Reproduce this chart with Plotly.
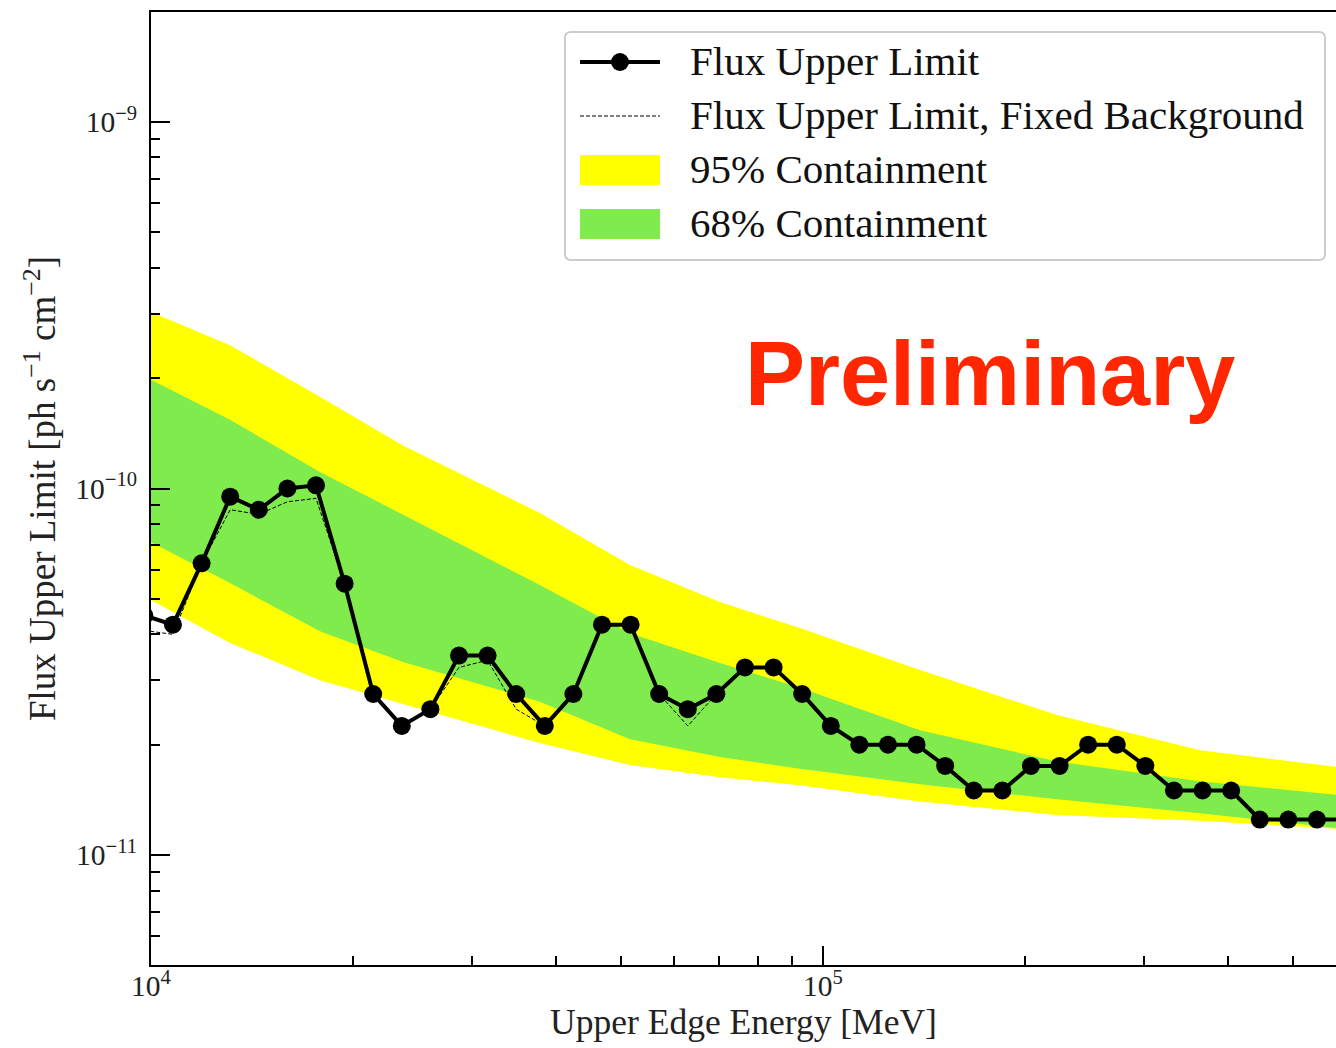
import math
import plotly.graph_objects as go

# ---------------- data ----------------
energy = [9775, 10782, 11893, 13118, 14468, 15958, 17601, 19414, 21412, 23617,
          26047, 28730, 31689, 34950, 38548, 42515, 46893, 51723, 57045, 62920,
          69395, 76545, 84431, 93111, 102706, 113271, 124939, 137813, 151986, 167647,
          184887, 203936, 224951, 248086, 273650, 301792, 332889, 367189, 404950, 446684,
          492611, 543350, 599300]

flux_ul = [4.5e-11, 4.25e-11, 6.25e-11, 9.5e-11, 8.75e-11, 1.0e-10, 1.02e-10, 5.5e-11, 2.75e-11, 2.25e-11,
           2.5e-11, 3.5e-11, 3.5e-11, 2.75e-11, 2.25e-11, 2.75e-11, 4.25e-11, 4.25e-11, 2.75e-11, 2.5e-11,
           2.75e-11, 3.25e-11, 3.25e-11, 2.75e-11, 2.25e-11, 2.0e-11, 2.0e-11, 2.0e-11, 1.75e-11, 1.5e-11,
           1.5e-11, 1.75e-11, 1.75e-11, 2.0e-11, 2.0e-11, 1.75e-11, 1.5e-11, 1.5e-11, 1.5e-11, 1.25e-11,
           1.25e-11, 1.25e-11, 1.25e-11]

flux_ul_fixed_bkg = [4.1e-11, 4.0e-11, 6.25e-11, 8.75e-11, 8.5e-11, 9.2e-11, 9.4e-11, 5.5e-11, 2.75e-11, 2.25e-11,
                     2.5e-11, 3.25e-11, 3.4e-11, 2.5e-11, 2.25e-11, 2.75e-11, 4.25e-11, 4.25e-11, 2.75e-11, 2.25e-11,
                     2.75e-11, 3.25e-11, 3.25e-11, 2.75e-11, 2.25e-11, 2.0e-11, 2.0e-11, 2.0e-11, 1.75e-11, 1.5e-11,
                     1.5e-11, 1.75e-11, 1.75e-11, 2.0e-11, 2.0e-11, 1.75e-11, 1.5e-11, 1.5e-11, 1.5e-11, 1.25e-11,
                     1.25e-11, 1.25e-11, 1.25e-11]

band_energy = [10000, 13110, 17840, 23710, 37910, 51610, 70260, 92420, 139400, 222900, 363900, 580000]
c95_upper = [3.03e-10, 2.46e-10, 1.78e-10, 1.31e-10, 8.57e-11, 6.18e-11, 4.90e-11, 4.16e-11, 3.20e-11, 2.41e-11, 1.93e-11, 1.74e-11]
c68_upper = [1.98e-10, 1.54e-10, 1.11e-10, 8.47e-11, 5.45e-11, 4.03e-11, 3.34e-11, 2.86e-11, 2.19e-11, 1.80e-11, 1.59e-11, 1.46e-11]
c68_lower = [7.14e-11, 5.52e-11, 4.08e-11, 3.36e-11, 2.62e-11, 2.07e-11, 1.85e-11, 1.72e-11, 1.56e-11, 1.42e-11, 1.30e-11, 1.185e-11]
c95_lower = [4.96e-11, 3.79e-11, 3.00e-11, 2.58e-11, 2.02e-11, 1.76e-11, 1.63e-11, 1.55e-11, 1.40e-11, 1.285e-11, 1.24e-11, 1.18e-11]

x_ticks = [1e4, 1e5]
x_ticktext = ["10<sup>4</sup>", "10<sup>5</sup>"]
y_ticks = [1e-11, 1e-10, 1e-9]
y_ticktext = ["10<sup>\u221211</sup>", "10<sup>\u221210</sup>", "10<sup>\u22129</sup>"]

legend_labels = ["Flux Upper Limit", "Flux Upper Limit, Fixed Background",
                 "95% Containment", "68% Containment"]

YELLOW = "#ffff00"
GREEN = "#7feb4c"
SERIF = "Liberation Serif"

W, H = 1336, 1048
ML, MR, MT, MB = 151, 0, 12, 83
PW, PH = W - ML - MR, H - MT - MB


def px_x(p):
    return (p - ML) / PW


def px_y(p):
    return (H - MB - p) / PH


fig = go.Figure()

# 95% band
fig.add_trace(go.Scatter(x=band_energy, y=c95_lower, mode="lines", line=dict(width=0),
                         showlegend=False, hoverinfo="skip"))
fig.add_trace(go.Scatter(x=band_energy, y=c95_upper, mode="lines", line=dict(width=0),
                         fill="tonexty", fillcolor=YELLOW, name=legend_labels[2], showlegend=False))
# 68% band
fig.add_trace(go.Scatter(x=band_energy, y=c68_lower, mode="lines", line=dict(width=0),
                         showlegend=False, hoverinfo="skip"))
fig.add_trace(go.Scatter(x=band_energy, y=c68_upper, mode="lines", line=dict(width=0),
                         fill="tonexty", fillcolor=GREEN, name=legend_labels[3], showlegend=False))
# fixed background
fig.add_trace(go.Scatter(x=energy, y=flux_ul_fixed_bkg, mode="lines",
                         line=dict(color="black", width=1, dash="4px,2px"),
                         name=legend_labels[1], showlegend=False))
# main
fig.add_trace(go.Scatter(x=energy, y=flux_ul, mode="lines+markers",
                         line=dict(color="black", width=4),
                         marker=dict(color="black", size=18),
                         name=legend_labels[0], showlegend=False))

# ---------------- legend (drawn manually) ----------------
bx0, bx1, by0, by1, rad = 565, 1325, 32, 260, 6
rx, ry = rad / PW, rad / PH
X0, X1, Y0, Y1 = px_x(bx0), px_x(bx1), px_y(by1), px_y(by0)
box_path = (f"M{X0+rx},{Y0} L{X1-rx},{Y0} Q{X1},{Y0} {X1},{Y0+ry} L{X1},{Y1-ry} "
            f"Q{X1},{Y1} {X1-rx},{Y1} L{X0+rx},{Y1} Q{X0},{Y1} {X0},{Y1-ry} "
            f"L{X0},{Y0+ry} Q{X0},{Y0} {X0+rx},{Y0} Z")
fig.add_shape(type="path", path=box_path, xref="paper", yref="paper",
              line=dict(color="#cccccc", width=2), fillcolor="white", layer="above")

row_y = [62, 116, 170, 224]
sx0, sx1 = 580, 660
fig.add_shape(type="line", xref="paper", yref="paper", x0=px_x(sx0), x1=px_x(sx1),
              y0=px_y(row_y[0]), y1=px_y(row_y[0]), line=dict(color="black", width=4), layer="above")
fig.add_shape(type="circle", xref="paper", yref="paper", x0=px_x(611), x1=px_x(629),
              y0=px_y(row_y[0] + 9), y1=px_y(row_y[0] - 9), fillcolor="black",
              line=dict(color="black", width=0), layer="above")
fig.add_shape(type="line", xref="paper", yref="paper", x0=px_x(sx0), x1=px_x(sx1),
              y0=px_y(row_y[1]), y1=px_y(row_y[1]),
              line=dict(color="black", width=1, dash="4px,2px"), layer="above")
fig.add_shape(type="rect", xref="paper", yref="paper", x0=px_x(sx0), x1=px_x(sx1),
              y0=px_y(row_y[2] + 15), y1=px_y(row_y[2] - 15), fillcolor=YELLOW,
              line=dict(width=0), layer="above")
fig.add_shape(type="rect", xref="paper", yref="paper", x0=px_x(sx0), x1=px_x(sx1),
              y0=px_y(row_y[3] + 15), y1=px_y(row_y[3] - 15), fillcolor=GREEN,
              line=dict(width=0), layer="above")
for lab, ry_ in zip(legend_labels, row_y):
    fig.add_annotation(text=lab, xref="paper", yref="paper", x=px_x(688), y=px_y(ry_ - 1),
                       xanchor="left", yanchor="middle", showarrow=False,
                       font=dict(family=SERIF, size=41, color="#111111"))

fig.add_annotation(text="<b>Preliminary</b>", xref="paper", yref="paper",
                   x=px_x(990), y=px_y(374), xanchor="center", yanchor="middle", showarrow=False,
                   font=dict(family="Liberation Sans", size=90, color="#ff2600"))

axis_common = dict(showline=True, linecolor="black", linewidth=2, showgrid=False, zeroline=False,
                   ticks="inside", ticklen=19, tickwidth=2, tickcolor="black",
                   tickfont=dict(family=SERIF, size=29.5, color="#222222"),
                   minor=dict(ticks="inside", ticklen=9, tickwidth=1.5, tickcolor="black",
                              dtick="D1", showgrid=False))

fig.update_layout(
    width=W, height=H,
    margin=dict(l=ML, r=MR, t=MT, b=MB, autoexpand=False),
    paper_bgcolor="white", plot_bgcolor="white",
    xaxis=dict(type="log", range=[4, math.log10(580000)], tickvals=x_ticks, ticktext=x_ticktext,
               mirror=True, ticklabelstandoff=-6,
               title=dict(text="Upper Edge Energy [MeV]", font=dict(family=SERIF, size=35.5, color="#222222"),
                          standoff=6),
               **axis_common),
    yaxis=dict(type="log", range=[-11.30, -8.70], tickvals=y_ticks, ticktext=y_ticktext,
               mirror=False, ticklabelstandoff=6,
               title=dict(text="Flux Upper Limit [ph s<sup>\u22121</sup> cm<sup>\u22122</sup>]",
                          font=dict(family=SERIF, size=37, color="#222222"), standoff=8),
               **axis_common),
    showlegend=False,
)

fig.write_html("out.html")
